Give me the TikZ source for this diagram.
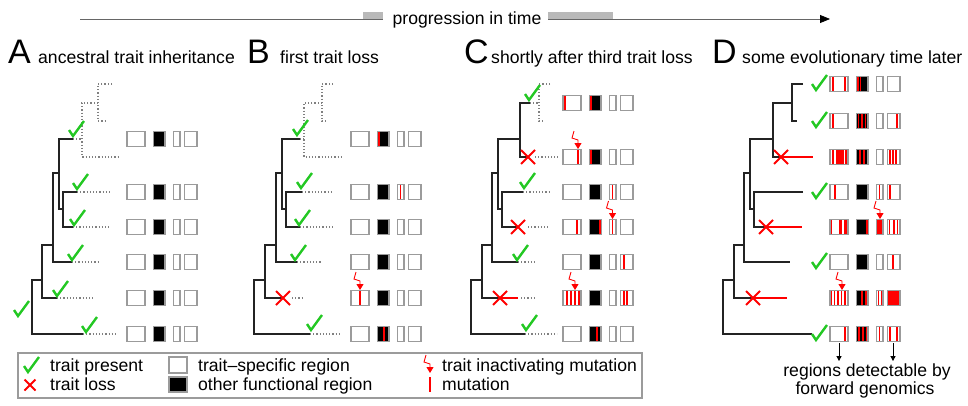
\documentclass[tikz,border=0pt]{standalone}
\usepackage{fontspec}
\setmainfont{Liberation Sans}
\usetikzlibrary{arrows.meta}

\definecolor{chkgreen}{RGB}{35,200,35}
\definecolor{boxgray}{RGB}{155,155,155}
\definecolor{bargray}{RGB}{185,185,185}
\definecolor{treeblack}{RGB}{35,35,35}

\tikzset{
  lbl/.style={font=\fontsize{17.6}{20}\selectfont,inner sep=0pt},
  panel/.style={font=\fontsize{34}{36}\selectfont,inner sep=0pt},
  branch/.style={treeblack,line width=1.7pt},
  future/.style={gray,line width=1.2pt,dotted},
  lossline/.style={red,line width=1.5pt},
  regionbox/.style={draw=boxgray,line width=1.3pt,fill=white},
  funcbox/.style={draw=boxgray,line width=1.3pt,fill=black},
  mutbar/.style={red,line width=1.8pt},
  checkmark/.style={chkgreen,line width=2.4pt},
  lossmark/.style={red,line width=1.9pt},
  zapline/.style={red,line width=0.9pt,-{Triangle[length=6pt,width=7pt]}},
  pointer/.style={line width=1pt,-{Triangle[length=5pt,width=5pt]}},
}

% marks
\newcommand{\chk}[2]{\draw[checkmark,shift={(#1,#2)}] (-4,-6) -- (0,0) -- (11,-15);}
\newcommand{\lost}[3][7]{\draw[lossmark,shift={(#2,#3)}] (-#1,-#1) -- (#1,#1) (-#1,#1) -- (#1,-#1);}
\newcommand{\zap}[2]{\draw[zapline,shift={(#1,#2)}] (-4,-18) -- (-6,-11) -- (0,-9) -- (0,0);}
\newcommand{\mut}[2]{\draw[mutbar,shift={(#1,#2)}] (0,-7) -- (0,7);}
\newcommand{\mutblock}[3]{\fill[red,shift={(0,#3)}] (#1,-7) rectangle (#2,7);}
% one row of genome regions
\newcommand{\regionrow}[2]{%
  \begin{scope}[shift={(#1,#2)}]
    \draw[regionbox] (0,-7.5) rectangle (18,7.5);
    \draw[funcbox] (26.5,-7.5) rectangle (38,7.5);
    \draw[regionbox] (46.5,-7.5) rectangle (53,7.5);
    \draw[regionbox] (57.5,-7.5) rectangle (70,7.5);
  \end{scope}}

\begin{document}
\begin{tikzpicture}[x=1pt,y=-1pt]
\useasboundingbox (0,0) rectangle (968,405);

% time axis
\coordinate (tstart) at (80,19);
\coordinate (tend) at (830,19);
\fill[bargray] (363,12) rectangle (383,19);
\fill[bargray] (548,12) rectangle (613,19);
\draw[gray!80!black,line width=0.8pt] (tstart) -- (383,19);
\draw[gray!80!black,line width=0.8pt,-{Triangle[length=10pt,width=8pt,color=black]}] (548,19) -- (tend);
\node[lbl,anchor=base] (progress) at (467,24) {progression in time};

% titles
\node[panel,anchor=base west] (letA) at (8,63) {A};
\node[lbl,anchor=base west] (titleA) at (38,63) {ancestral trait inheritance};
\node[panel,anchor=base west] (letB) at (247,63) {B};
\node[lbl,anchor=base west] (titleB) at (280,63) {first trait loss};
\node[panel,anchor=base west] (letC) at (464,63) {C};
\node[lbl,anchor=base west] (titleC) at (491,63) {shortly after third trait loss};
\node[panel,anchor=base west] (letD) at (712,63) {D};
\node[lbl,anchor=base west] (titleD) at (742,63) {some evolutionary time later};

% panel A
\draw[branch] (42,280) -- (32,280) -- (32,334) -- (83,334);
\draw[branch] (53,245) -- (42,245) -- (42,298) -- (57,298);
\draw[branch] (59,173) -- (53,173) -- (53,262) -- (72,262);
\draw[branch] (73,139) -- (59,139) -- (59,209) -- (63,209);
\draw[branch] (77,192) -- (63,192) -- (63,227) -- (73,227);
\draw[future] (83,334) -- (118,334);
\draw[future] (57,298) -- (95,298);
\draw[future] (72,262) -- (98,262);
\draw[future] (77,192) -- (110,192);
\draw[future] (73,227) -- (110,227);
\draw[future] (73,139) -- (82,139);
\draw[future] (98,103) -- (82,103) -- (82,157) -- (120,157);
\draw[future] (112,84) -- (98,84) -- (98,121) -- (106,121);
\chk{73}{136} \chk{77}{189} \chk{74}{225} \chk{72}{260} \chk{57}{296} \chk{86}{332} \chk{18}{316}
\foreach \y in {139,192,227,262,298,334} {\regionrow{127}{\y}}

% panel B
\draw[branch] (265,280) -- (254,280) -- (254,334) -- (310,334);
\draw[branch] (276,245) -- (265,245) -- (265,298) -- (283,298);
\draw[branch] (282,173) -- (276,173) -- (276,262) -- (297,262);
\draw[branch] (300,139) -- (282,139) -- (282,209) -- (286,209);
\draw[branch] (302,192) -- (286,192) -- (286,227) -- (300,227);
\draw[future] (310,334) -- (340,334);
\draw[future] (292,298) -- (303,298);
\draw[future] (297,262) -- (322,262);
\draw[future] (302,192) -- (333,192);
\draw[future] (300,227) -- (333,227);
\draw[future] (300,139) -- (304,139);
\draw[future] (322,103) -- (304,103) -- (304,157) -- (343,157);
\draw[future] (333,84) -- (322,84) -- (322,121) -- (327,121);
\chk{297}{135} \chk{301}{188} \chk{299}{225} \chk{295}{260} \chk{311}{330}
\lost{283}{298}
\foreach \y in {139,192,227,262,298,334} {\regionrow{351}{\y}}
\mut{379}{139}
\mut{400.5}{192}
\mut{360}{298} \zap{360}{290}
\mut{384}{334}

% panel C
\draw[branch] (482,280) -- (471,280) -- (471,334) -- (525,334);
\draw[branch] (492,245) -- (482,245) -- (482,298) -- (500,298);
\draw[lossline] (500,298) -- (518,298);
\draw[branch] (498,173) -- (492,173) -- (492,262) -- (518,262);
\draw[branch] (520,139) -- (498,139) -- (498,209) -- (502,209);
\draw[branch] (523,192) -- (502,192) -- (502,227) -- (518,227);
\draw[branch] (530,103) -- (520,103) -- (520,157) -- (528,157);
\draw[future] (525,334) -- (557,334);
\draw[future] (521,298) -- (534,298);
\draw[future] (518,262) -- (537,262);
\draw[future] (523,192) -- (550,192);
\draw[future] (528,227) -- (549,227);
\draw[future] (535,157) -- (558,157);
\draw[future] (530,103) -- (539,103);
\draw[future] (550,84) -- (539,84) -- (539,121) -- (545,121);
\chk{529}{100} \chk{524}{188} \chk{517}{260} \chk{526}{330}
\lost{528}{157} \lost{518}{227} \lost{500}{298}
\foreach \y in {103,157,192,227,262,298,334} {\regionrow{563}{\y}}
\mut{565}{103} \mut{591}{103}
\mut{578}{157} \zap{578}{149} \mut{591}{157}
\mut{612.5}{192}
\mut{577}{227} \mut{600}{227} \mut{612.5}{227} \zap{612.5}{219}
\mut{624}{262}
\mut{567}{298} \mut{571}{298} \mut{575}{298} \mut{579}{298} \zap{575}{290}
\mut{624}{298} \mut{627}{298}
\mut{597}{334}

% panel D
\draw[branch] (734,280) -- (723,280) -- (723,334) -- (812,334);
\draw[branch] (744,245) -- (734,245) -- (734,298) -- (753,298);
\draw[lossline] (753,298) -- (787,298);
\draw[branch] (750,173) -- (744,173) -- (744,262) -- (790,262);
\draw[branch] (773,139) -- (750,139) -- (750,209) -- (754,209);
\draw[branch] (803,192) -- (754,192) -- (754,227) -- (766,227);
\draw[lossline] (766,227) -- (802,227);
\draw[branch] (792,103) -- (773,103) -- (773,157) -- (781,157);
\draw[lossline] (781,157) -- (813,157);
\draw[branch] (803,84) -- (792,84) -- (792,121) -- (797,121);
\chk{816}{90} \chk{816}{127} \chk{816}{198} \chk{816}{268} \chk{816}{340}
\lost{781}{157} \lost{766}{227} \lost{753}{298}
\foreach \y in {84,121,157,192,227,262,298,334} {\regionrow{830}{\y}}
\mut{833}{84} \mut{845}{84} \mut{858}{84} \mut{860.5}{84}
\mut{833}{121} \mut{858.5}{121} \mut{862}{121} \mut{865.5}{121} \mut{897}{121}
\mut{833}{157} \mutblock{836}{844}{157} \mut{846}{157} \mut{860}{157} \mut{864}{157}
\mut{890}{157} \mut{893}{157} \mut{896}{157}
\mut{835}{192} \mut{879.5}{192} \mut{890}{192}
\mut{831.5}{227} \mutblock{839}{842}{227} \mutblock{843.5}{847}{227} \mut{867}{227}
\draw[regionbox,fill=red] (876.5,219.5) rectangle (883,234.5);
\zap{880}{219}
\mut{889.5}{227} \mut{894}{227} \mut{897.5}{227}
\mut{893}{262}
\mut{831.5}{298} \mut{834.5}{298} \mut{838}{298} \mut{841.5}{298} \mut{845}{298} \zap{842}{290}
\mut{862}{298} \mut{866}{298} \mut{878.5}{298} \mut{881.5}{298}
\draw[regionbox,fill=red] (887.5,290.5) rectangle (900,305.5);
\mut{845}{334} \mut{859}{334} \mut{863}{334} \mut{866.5}{334} \mut{879.5}{334}
\mut{890}{334} \mut{897}{334}

% forward genomics note
\coordinate (detL) at (839,343);
\coordinate (detR) at (893,343);
\node[lbl,anchor=base] (detect) at (867,376) {regions detectable by};
\node[lbl,anchor=base] (fwd) at (865,394) {forward genomics};
\draw[pointer,shorten >=2pt] (detL) -- (detL |- detect.north);
\draw[pointer,shorten >=2pt] (detR) -- (detR |- detect.north);

% legend
\draw[boxgray,line width=1.2pt] (18,353) rectangle (642,398);
\chk{28}{372}
\lost[5.5]{30}{385}
\node[lbl,anchor=base west] (lgPresent) at (50,371) {trait present};
\node[lbl,anchor=base west] (lgLoss) at (50,390) {trait loss};
\draw[regionbox] (169,357) rectangle (187,373);
\draw[funcbox] (169,377) rectangle (187,392);
\node[lbl,anchor=base west] (lgRegion) at (198,371) {trait–specific region};
\node[lbl,anchor=base west] (lgFunc) at (198,390) {other functional region};
\zap{430}{373}
\draw[mutbar] (430,377) -- (430,392);
\node[lbl,anchor=base west] (lgZap) at (442,371) {trait inactivating mutation};
\node[lbl,anchor=base west] (lgMut) at (442,390) {mutation};
\end{tikzpicture}
\end{document}
